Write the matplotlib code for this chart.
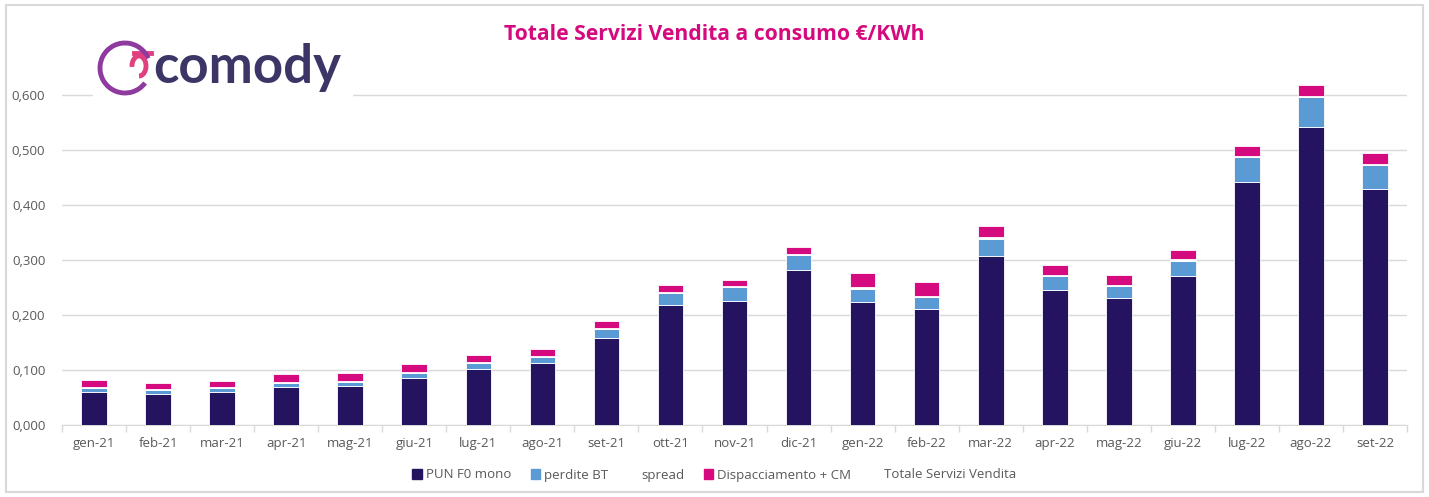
import numpy as np
import matplotlib.pyplot as plt
from matplotlib.patches import Rectangle, Arc
from matplotlib.lines import Line2D
from matplotlib.patches import Patch
from matplotlib.ticker import FuncFormatter, FixedLocator

months = ["gen-21", "feb-21", "mar-21", "apr-21", "mag-21", "giu-21", "lug-21",
          "ago-21", "set-21", "ott-21", "nov-21", "dic-21", "gen-22", "feb-22",
          "mar-22", "apr-22", "mag-22", "giu-22", "lug-22", "ago-22", "set-22"]
pun = [0.060, 0.057, 0.060, 0.069, 0.070, 0.085, 0.102, 0.113, 0.159, 0.218, 0.226,
       0.281, 0.224, 0.211, 0.308, 0.246, 0.230, 0.271, 0.441, 0.542, 0.430]
perdite = [0.007, 0.006, 0.007, 0.008, 0.008, 0.009, 0.011, 0.011, 0.016, 0.022, 0.024,
           0.028, 0.024, 0.022, 0.031, 0.025, 0.023, 0.028, 0.046, 0.055, 0.043]
spread = [0.002, 0.002, 0.002, 0.002, 0.002, 0.002, 0.002, 0.002, 0.002, 0.002, 0.002,
          0.002, 0.002, 0.002, 0.002, 0.002, 0.002, 0.002, 0.002, 0.002, 0.002]
dispacc = [0.013, 0.012, 0.011, 0.014, 0.015, 0.015, 0.012, 0.012, 0.012, 0.012, 0.012,
           0.013, 0.026, 0.025, 0.020, 0.018, 0.018, 0.017, 0.018, 0.020, 0.020]

c_pun = "#24135f"
c_perd = "#5b9bd5"
c_spread = "#ffffff"
c_disp = "#d50a7e"
grey_txt = "#595959"

plt.rcParams['font.family'] = ['Open Sans', 'DejaVu Sans']

fig = plt.figure(figsize=(14.29, 4.97), dpi=100)
fig.patches.append(Rectangle((0.004, 0.01), 0.992, 0.98, transform=fig.transFigure,
                             fill=False, edgecolor="#d9d9d9", lw=1.5))
ax = fig.add_axes([0.0434, 0.145, 0.9412, 0.719])

x = np.arange(len(months))
w = 0.4
bottom = np.zeros(len(months))
for vals, col in [(pun, c_pun), (perdite, c_perd), (spread, c_spread), (dispacc, c_disp)]:
    ax.bar(x, vals, w, bottom=bottom, color=col, edgecolor="white", linewidth=0.6, zorder=3)
    bottom += np.array(vals)

ax.set_xlim(-0.5, len(months) - 0.5)
ax.set_ylim(0, 0.65)
ax.set_yticks(np.arange(0, 0.61, 0.1))
ax.yaxis.set_major_formatter(FuncFormatter(lambda v, p: f"{v:.3f}".replace(".", ",")))
ax.grid(axis="y", color="#d9d9d9", lw=1, zorder=0)
ax.tick_params(axis="y", length=0, labelsize=9.5, labelcolor=grey_txt, pad=12)

ax.set_xticks(x)
ax.set_xticklabels(months)
ax.tick_params(axis="x", which="major", length=0, labelsize=9.5, labelcolor=grey_txt, pad=9)
ax.xaxis.set_minor_locator(FixedLocator(np.arange(-0.5, len(months), 1)))
ax.tick_params(axis="x", which="minor", length=5, color="#d9d9d9", width=1)

for s in ["top", "right", "left"]:
    ax.spines[s].set_visible(False)
ax.spines["bottom"].set_color("#d9d9d9")

fig.text(0.5, 0.93, "Totale Servizi Vendita a consumo €/KWh", ha="center", va="center",
         fontsize=15.2, fontweight="bold", color=c_disp)

# logo
fig.patches.append(Rectangle((93 / 1429, 1 - 100 / 497), 259 / 1429, 64 / 497,
                             transform=fig.transFigure, color="white", zorder=5))
fig.text(153 / 1429, 1 - 68 / 497, "comody", ha="left", va="center", fontsize=38,
         color="#3b3666", family="Lato", fontweight="bold", zorder=6)
fig.patches.append(Arc((125 / 1429, 1 - 68 / 497), 50 / 1429, 50 / 497, theta1=50, theta2=295,
                       transform=fig.transFigure, color="#8e3a9e", lw=3.5, zorder=6))
fig.patches.append(Arc((139 / 1429, 1 - 66 / 497), 14 / 1429, 20 / 497, theta1=-90, theta2=200,
                       transform=fig.transFigure, color="#e0407f", lw=3.5, zorder=6))
fig.lines.append(Line2D([134 / 1429, 151 / 1429], [1 - 53 / 497, 1 - 53 / 497],
                        transform=fig.transFigure, color="#e0407f", lw=3.5, zorder=6))

handles = [Patch(color=c_pun, label="PUN F0 mono"),
           Patch(color=c_perd, label="perdite BT"),
           Patch(color=c_spread, label="spread"),
           Patch(color=c_disp, label="Dispacciamento + CM"),
           Line2D([], [], color="none", label="Totale Servizi Vendita")]
leg = fig.legend(handles=handles, loc="center", bbox_to_anchor=(0.5, 1 - 475 / 497), ncol=5,
                 frameon=False, fontsize=9.5, handlelength=0.7, handleheight=0.7,
                 handletextpad=0.3, columnspacing=1.5)
for t in leg.get_texts():
    t.set_color(grey_txt)

fig.savefig("out.png", dpi=100)
